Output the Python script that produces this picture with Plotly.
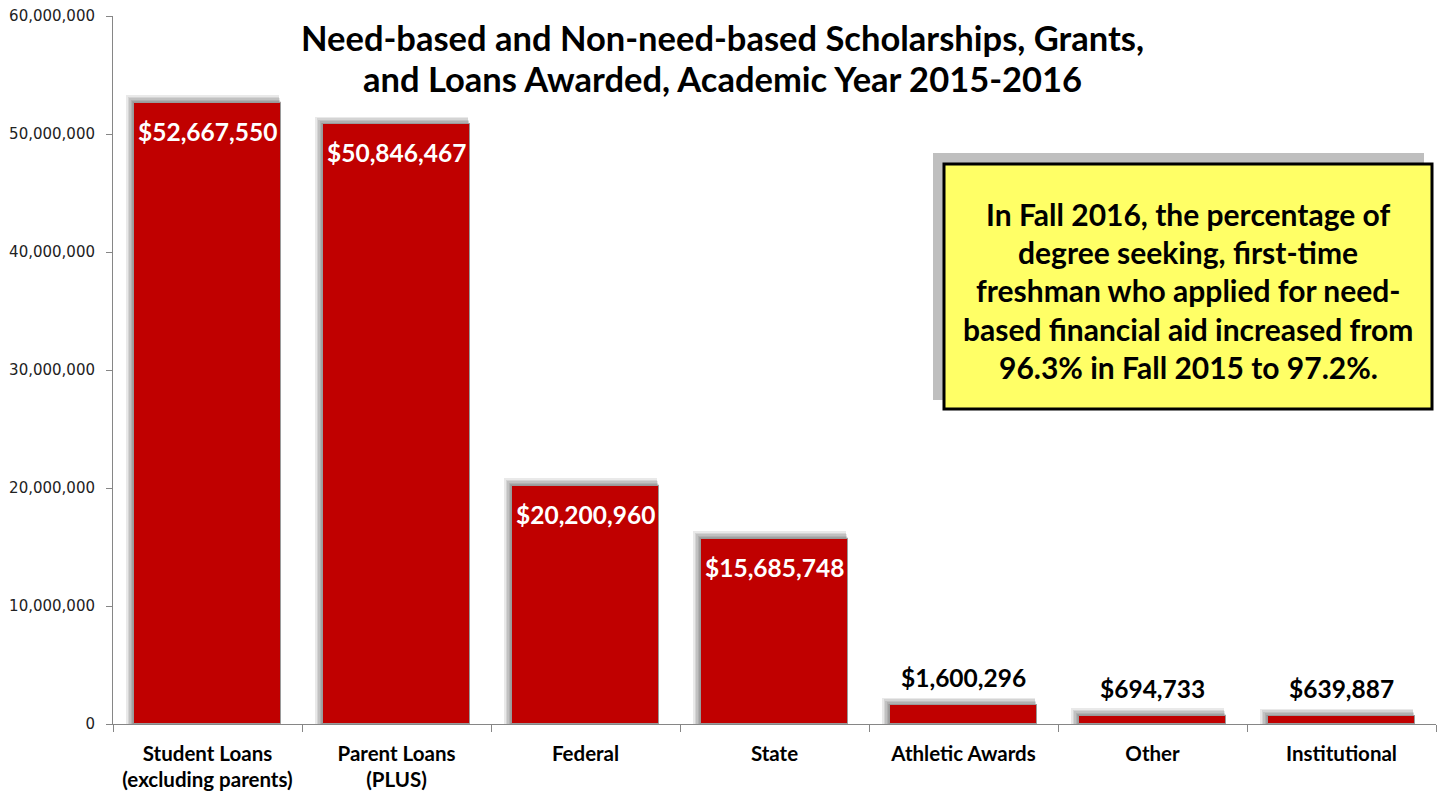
import plotly.graph_objects as go

# Award categories and dollar amounts, academic year 2015-2016
categories = ["Student Loans<br>(excluding parents)", "Parent Loans<br>(PLUS)", "Federal",
              "State", "Athletic Awards", "Other", "Institutional"]
amounts = [52667550, 50846467, 20200960, 15685748, 1600296, 694733, 639887]
label_inside = [True, True, True, True, False, False, False]

title_lines = ["Need-based and Non-need-based Scholarships, Grants,",
               "and Loans Awarded, Academic Year 2015-2016"]
note_lines = ["In Fall 2016, the percentage of",
              "degree seeking, first-time",
              "freshman who applied for need-",
              "based financial aid increased from",
              "96.3% in Fall 2015 to 97.2%."]

y_ticks = [0, 10000000, 20000000, 30000000, 40000000, 50000000, 60000000]

# Layout geometry (pixels)
W, H = 1441, 795
ML, MR, MT, MB = 113, 5, 16, 71
plot_w = W - ML - MR
plot_h = H - MT - MB
y_max = 60000000
px_per_unit = plot_h / y_max
cat_px = plot_w / len(categories)

BAR_W = 0.78
TEXT_FONT = "Lato, 'Open Sans', sans-serif"

fig = go.Figure()

# Soft drop shadow behind each bar, built from several translucent layers
for d in [1.5, 3, 4.5, 6, 7.5]:
    dx = d / cat_px
    fig.add_trace(go.Bar(
        x=categories,
        y=[v + d / px_per_unit for v in amounts],
        width=BAR_W + dx * 0.7,
        offset=-BAR_W / 2 - dx,
        marker=dict(color="rgba(0,0,0,0.085)", line=dict(width=0)),
        hoverinfo="skip",
        showlegend=False,
    ))

# Main bars
fig.add_trace(go.Bar(
    x=categories,
    y=amounts,
    width=BAR_W,
    offset=-BAR_W / 2,
    marker=dict(color="#C00000", line=dict(color="#9a9a9a", width=1)),
    showlegend=False,
))

# Value labels
for cat, v, inside in zip(categories, amounts, label_inside):
    fig.add_annotation(
        x=cat, y=v, xref="x", yref="y",
        text="${:,}".format(v),
        showarrow=False,
        xanchor="center",
        yanchor="top" if inside else "bottom",
        yshift=-12 if inside else 11,
        font=dict(family=TEXT_FONT, size=24.5, color="white" if inside else "black", weight="bold"),
    )

# Chart title
for i, line in enumerate(title_lines):
    fig.add_annotation(
        x=722, y=37 + i * 42, xref="paper", yref="paper",
        text=line, showarrow=False, xanchor="center", yanchor="middle",
        font=dict(family=TEXT_FONT, size=34.5, color="black", weight="bold"),
    )

# Callout box with its shadow
fig.add_shape(type="rect", xref="paper", yref="paper",
              x0=933, x1=1424, y0=153, y1=400,
              fillcolor="#BFBFBF", line=dict(width=0), layer="above")
fig.add_shape(type="rect", xref="paper", yref="paper",
              x0=944, x1=1432, y0=164, y1=409,
              fillcolor="#FFFF66", line=dict(color="black", width=3), layer="above")
for i, line in enumerate(note_lines):
    fig.add_annotation(
        x=1188, y=214 + i * 38.2, xref="paper", yref="paper",
        text=line, showarrow=False, xanchor="center", yanchor="middle",
        font=dict(family=TEXT_FONT, size=30, color="black", weight="bold"),
    )

# Convert the pixel placements of paper-referenced items to paper fractions
for ann in fig.layout.annotations:
    if ann.xref == "paper":
        ann.x = (ann.x - ML) / plot_w
        ann.y = (H - MB - ann.y) / plot_h
for shp in fig.layout.shapes:
    shp.x0 = (shp.x0 - ML) / plot_w
    shp.x1 = (shp.x1 - ML) / plot_w
    y0, y1 = shp.y0, shp.y1
    shp.y0 = (H - MB - y1) / plot_h
    shp.y1 = (H - MB - y0) / plot_h

fig.update_layout(
    width=W, height=H,
    margin=dict(l=ML, r=MR, t=MT, b=MB),
    paper_bgcolor="white", plot_bgcolor="white",
    barmode="overlay",
    bargap=0,
    showlegend=False,
)
fig.update_xaxes(
    type="category",
    range=[-0.5, len(categories) - 0.5],
    showline=True, linecolor="#868686", linewidth=1,
    ticks="outside", tickson="boundaries", ticklen=7, tickcolor="#868686",
    showgrid=False,
    ticklabelstandoff=11,
    tickfont=dict(family=TEXT_FONT, size=20.5, color="black", weight="bold"),
)
fig.update_yaxes(
    range=[0, y_max],
    tickvals=y_ticks,
    tickformat=",d",
    showline=True, linecolor="#868686", linewidth=1,
    ticks="outside", ticklen=6, tickcolor="#868686",
    showgrid=False, zeroline=False,
    ticklabelstandoff=8,
    tickfont=dict(family="'DejaVu Sans', Verdana, sans-serif", size=15, color="#222"),
)

fig.write_html("out.html")
